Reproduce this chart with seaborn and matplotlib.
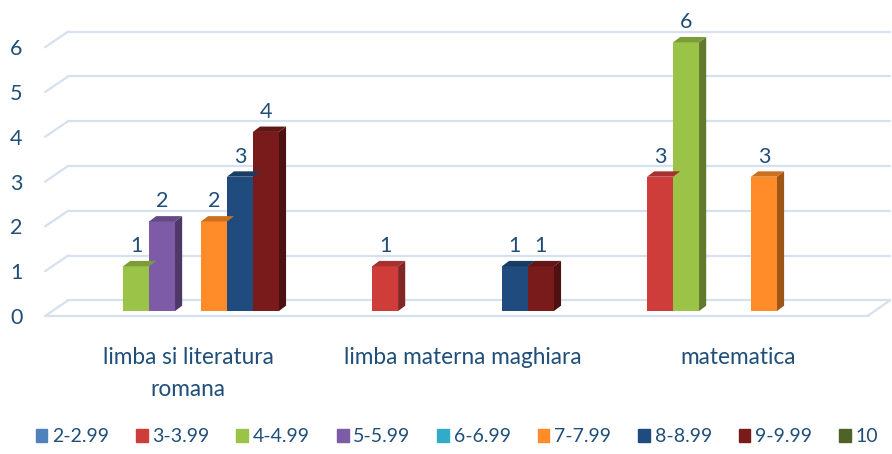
import pandas as pd
import numpy as np
import seaborn as sns
import matplotlib.pyplot as plt
from matplotlib.patches import Polygon
from matplotlib.colors import to_rgb

# data
subjects = ["limba si literatura\nromana", "limba materna maghiara", "matematica"]
grades = ["2-2.99", "3-3.99", "4-4.99", "5-5.99", "6-6.99", "7-7.99", "8-8.99", "9-9.99", "10"]
romana = [0, 0, 1, 2, 0, 2, 3, 4, 0]
maghiara = [0, 1, 0, 0, 0, 0, 1, 1, 0]
matematica = [0, 3, 6, 0, 0, 3, 0, 0, 0]
colors = ["#4F81BD", "#CF3D3A", "#9BC348", "#7D5BA6", "#31ACC8",
          "#FF8C28", "#1F4B7E", "#7A1B1B", "#4F6228"]

rows = []
for subj, vals in zip(subjects, [romana, maghiara, matematica]):
    for g, v in zip(grades, vals):
        rows.append({"subject": subj, "grade": g, "count": v})
df = pd.DataFrame(rows)

sns.set_theme(style="white")
plt.rcParams['font.family'] = ['Lato', 'DejaVu Sans']
txt = "#1F4E79"

fig = plt.figure(figsize=(8.92, 4.54), dpi=100)
# bar bases sit a little above the front floor edge
off = 0.11
ax = fig.add_axes([50.5 / 892, 1 - 316 / 454, 825 / 892, 305 / 454])

sns.barplot(data=df, x="subject", y="count", hue="grade", order=subjects,
            hue_order=grades, palette=colors, width=0.85, saturation=1,
            linewidth=0, legend=False, ax=ax, zorder=3)

ax.set_xlim(-0.5, 2.5)
ax.set_ylim(0, 6.7)

# 3d depth in data units
dx, dy = 0.026, 0.12

# grid: floor and back lines
gcol = "#D6E1F0"
x_front, x_back = -0.52, -0.436
for v in range(0, 7):
    yf, yb = v - off, v - off + 0.35
    ax.plot([x_front, x_back], [yf, yb], color=gcol, lw=1.6, clip_on=False, zorder=1)
    ax.plot([x_back, 2.553], [yb, yb], color=gcol, lw=1.6, clip_on=False, zorder=1)
ax.plot([x_front, 2.471], [-off, -off], color=gcol, lw=1.6, clip_on=False, zorder=1)
ax.plot([2.471, 2.553], [-off, -off + 0.35], color=gcol, lw=1.6, clip_on=False, zorder=1)

def shade(c, f):
    r, g, b = to_rgb(c)
    return (r * f, g * f, b * f)

for patch in ax.patches:
    h = patch.get_height()
    if h <= 0:
        continue
    x0 = patch.get_x()
    x1 = x0 + patch.get_width()
    fc = patch.get_facecolor()
    side = Polygon([(x1, 0), (x1 + dx, dy), (x1 + dx, h + dy), (x1, h)],
                   closed=True, facecolor=shade(fc, 0.62), edgecolor="none", zorder=2.9)
    top = Polygon([(x0, h), (x0 + dx, h + dy), (x1 + dx, h + dy), (x1, h)],
                  closed=True, facecolor=shade(fc, 0.8), edgecolor="none", zorder=3.1)
    ax.add_patch(side)
    ax.add_patch(top)
    ax.text((x0 + x1) / 2, h + 0.45, f"{int(h)}", ha="center", va="center",
            fontsize=15.5, color=txt, zorder=5)

for s in ax.spines.values():
    s.set_visible(False)
ax.set_xlabel("")
ax.set_ylabel("")
ax.set_yticks([v - off for v in range(0, 7)])
ax.set_yticklabels([str(v) for v in range(0, 7)])
ax.tick_params(axis="y", length=0, pad=20, labelsize=15.5, labelcolor=txt)
ax.tick_params(axis="x", length=0, pad=22, labelsize=16.3, labelcolor=txt)
for lab in ax.get_xticklabels():
    lab.set_linespacing(1.7)

handles = [plt.Rectangle((0, 0), 1, 1, color=c) for c in colors]
fig.legend(handles, grades, loc="center left", bbox_to_anchor=(18 / 892, 1 - 437 / 454),
           ncol=9, frameon=False, fontsize=14, handlelength=0.6, handleheight=0.6,
           handletextpad=0.25, columnspacing=1.38, labelcolor=txt)

fig.savefig("out.png", dpi=100)
